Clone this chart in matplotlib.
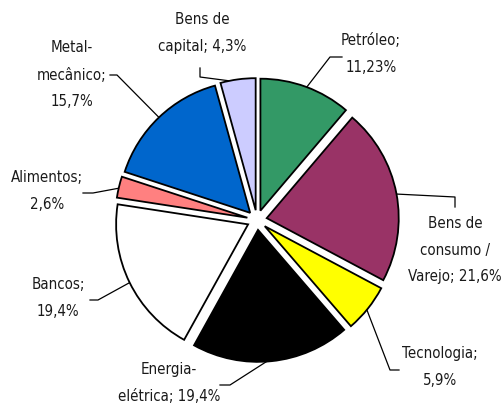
import numpy as np
import matplotlib
matplotlib.use('Agg')
import matplotlib.pyplot as plt

plt.rcParams['font.family'] = ['Liberation Sans Narrow', 'DejaVu Sans']
plt.rcParams['font.stretch'] = 'condensed'

# dados
setores = ['Petróleo', 'Bens de consumo / Varejo', 'Tecnologia', 'Energia elétrica',
           'Bancos', 'Alimentos', 'Metal-mecânico', 'Bens de capital']
valores = [11.23, 21.6, 5.9, 19.4, 19.4, 2.6, 15.7, 4.3]
rotulos = ['Petróleo;\n11,23%', 'Bens de\nconsumo /\nVarejo; 21,6%', 'Tecnologia;\n5,9%',
           'Energia-\nelétrica; 19,4%', 'Bancos;\n19,4%', 'Alimentos;\n2,6%',
           'Metal-\nmecânico;\n15,7%', 'Bens de\ncapital; 4,3%']
cores = ['#339966', '#993366', '#FFFF00', '#000000', '#FFFFFF', '#FF8080', '#0066CC', '#CCCCFF']

# posição do centro e raio em pixels
CX, CY, R = 257, 220, 132
W, H = 504, 405
EXP = 0.075


def px(x, y):
    return ((x - CX) / R, (CY - y) / R)


# posição dos textos e das linhas de chamada (pixels)
pos_texto = [(371, 54), (455, 250), (440, 367), (169, 383), (58, 298), (47, 191), (72, 75), (202, 33)]
linhas = [[(342, 57), (330, 57)],
          [(455, 207), (455, 197)],
          [(399, 370), (390, 370)],
          [(220, 385), (230, 385)],
          [(90, 300), (98, 300)],
          [(83, 193), (93, 193)],
          [(110, 75), (117, 75)],
          [(200, 68), (200, 77)]]

fig = plt.figure(figsize=(W / 100, H / 100), dpi=100)
ax = fig.add_axes([0, 0, 1, 1])

wedges, _ = ax.pie(valores, colors=cores, startangle=90, counterclock=False,
                   explode=[EXP] * len(valores),
                   wedgeprops=dict(edgecolor='black', linewidth=1.3, zorder=3))
ax.set_xlim(-CX / R, (W - CX) / R)
ax.set_ylim((CY - H) / R, CY / R)
ax.set_aspect('equal')
ax.axis('off')

for w, txt, tp, ln in zip(wedges, rotulos, pos_texto, linhas):
    ang = np.deg2rad((w.theta1 + w.theta2) / 2)
    cx, cy = w.center
    sx, sy = cx + np.cos(ang) * 0.98, cy + np.sin(ang) * 0.98
    p1 = px(*ln[0])
    p2 = px(*ln[1])
    ax.plot([p1[0], p2[0], sx], [p1[1], p2[1], sy], color='black', lw=0.9, zorder=1)
    tx, ty = px(*tp)
    ax.text(tx, ty, txt, ha='center', va='center', fontsize=10.8,
            linespacing=2.0, color='#1a1a1a', zorder=4)

fig.savefig('out.png', dpi=100)
